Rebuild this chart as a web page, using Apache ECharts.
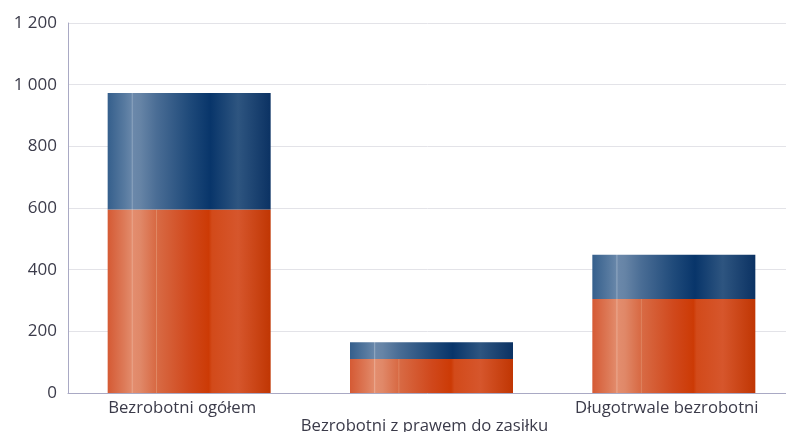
<!DOCTYPE html>
<html>
<head>
<meta charset="utf-8">
<script src="https://cdn.jsdelivr.net/npm/echarts@6/dist/echarts.min.js"></script>
<style>html,body{margin:0;padding:0;background:#fff}#c{width:786px;height:432px}</style>
</head>
<body>
<div id="c"></div>
<script>
const categories = ['Bezrobotni ogółem', 'Bezrobotni z prawem do zasiłku', 'Długotrwale bezrobotni'];
const bottomValues = [595, 110, 305];
const topValues = [378, 55, 143];
const yTicks = [0, 200, 400, 600, 800, 1000, 1200];

const chart = echarts.init(document.getElementById('c'));
function grad(stops){
  return new echarts.graphic.LinearGradient(0,0,1,0, stops.map(s=>({offset:s[0], color:s[1]})));
}
const orange = grad([[0,'#d55a34'],[0.1,'#dd7a58'],[0.145,'#e28a6a'],[0.15,'#eaa68c'],[0.158,'#e38d6e'],[0.2,'#e08868'],[0.295,'#d86a44'],[0.3,'#e08a66'],[0.305,'#d86a44'],[0.5,'#d0481c'],[0.62,'#cc3a05'],[0.64,'#d24a1a'],[0.8,'#d6562c'],[1,'#c03603']]);
const navy = grad([[0,'#355f8c'],[0.1,'#56799f'],[0.145,'#6786a9'],[0.15,'#8ea6c0'],[0.158,'#6b88aa'],[0.2,'#6684a6'],[0.3,'#4a6d95'],[0.5,'#1f4a7a'],[0.63,'#08356a'],[0.8,'#2e5580'],[1,'#0b3263']]);
const font = 'Open Sans';
chart.setOption({
  animation:false,
  grid:{left:68, top:23, width:727, height:370, outerBoundsMode:'none', containLabel:false},
  xAxis:{
    type:'category', data:categories,
    axisLine:{lineStyle:{color:'#a9a9c4', width:1}},
    axisTick:{show:false},
    axisLabel:{
      interval:0, color:'#3b3b4a', fontFamily:font, fontSize:16.7, margin:6,
      padding:[0,14,0,0],
      formatter:(v,i)=> i%2===1 ? '\n'+v : v, lineHeight:18
    }
  },
  yAxis:{
    type:'value', min:0, max:1200, interval:200,
    axisLine:{show:true, lineStyle:{color:'#a9a9c4', width:1}},
    axisTick:{show:false},
    splitLine:{lineStyle:{color:'#e3e3e8'}},
    axisLabel:{color:'#3b3b4a', fontFamily:font, fontSize:17, margin:11,
      formatter:v=> String(v).replace(/\B(?=(\d{3})+(?!\d))/g,' ')}
  },
  series:[
    {type:'bar', stack:'a', data:bottomValues, barWidth:163, itemStyle:{color:orange}},
    {type:'bar', stack:'a', data:topValues, barWidth:163, itemStyle:{color:navy}}
  ]
});
</script>
</body>
</html>
